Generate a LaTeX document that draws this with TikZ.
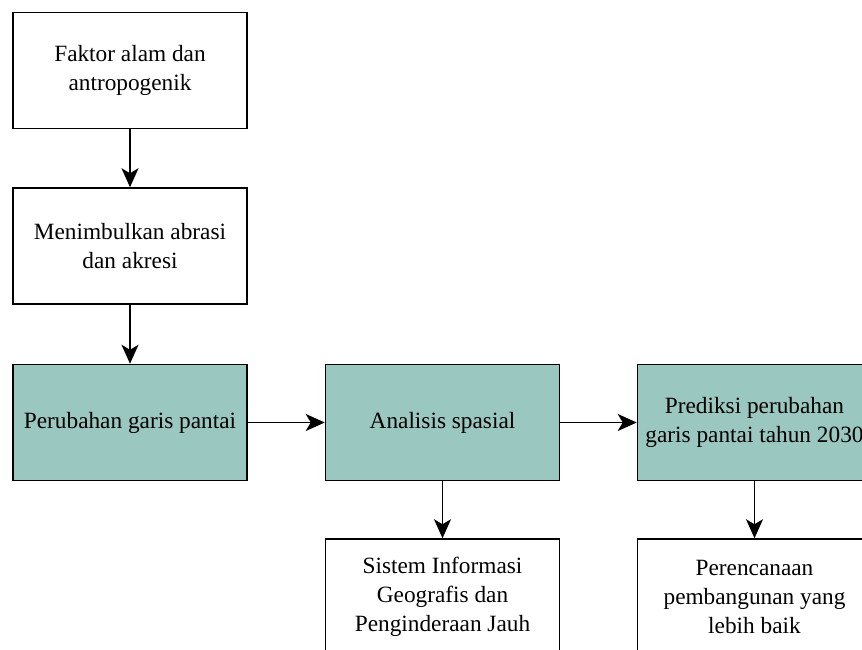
\documentclass[tikz,border=0pt]{standalone}
\usepackage{fontspec}
\setmainfont{Liberation Serif}
\usepackage{tikz}
\usetikzlibrary{positioning,arrows.meta}
\definecolor{stepfill}{RGB}{154,199,191}

\begin{document}
\begin{tikzpicture}[x=1pt,y=-1pt,
   font=\fontsize{23.3}{29}\selectfont,
   box/.style={draw=black,fill=white,line width=1.5pt,minimum width=234pt,
               minimum height=116pt,align=center,inner sep=0pt},
   tealbox/.style={box,fill=stepfill},
   ar/.style={-{Stealth[length=19pt,width=17pt,inset=5pt]},line width=1.5pt}]

\useasboundingbox (0,0) rectangle (862,650);
\clip (0,0) rectangle (862,650);

% left column
\node[box] (faktor) at (130,70.5) {Faktor alam dan\\antropogenik};
\node[box] (abrasi) at (130,246) {Menimbulkan abrasi\\dan akresi};
\node[tealbox] (garis) at (130,422.5) {Perubahan garis pantai};

% middle row
\node[tealbox] (analisis) at (442.5,422.5) {Analisis spasial};
\node[tealbox] (prediksi) at (754.5,422.5) {Prediksi perubahan\\garis pantai tahun 2030};

% bottom row
\node[box] (sig) at (442.5,597) {Sistem Informasi\\Geografis dan\\Penginderaan Jauh};
\node[box] (rencana) at (754.5,597) {Perencanaan\\pembangunan yang\\lebih baik};

\draw[ar] (faktor) -- (abrasi);
\draw[ar] (abrasi) -- (garis);
\draw[ar] (garis) -- (analisis);
\draw[ar] (analisis) -- (prediksi);
\draw[ar] (analisis) -- (sig);
\draw[ar] (prediksi) -- (rencana);
\end{tikzpicture}
\end{document}
